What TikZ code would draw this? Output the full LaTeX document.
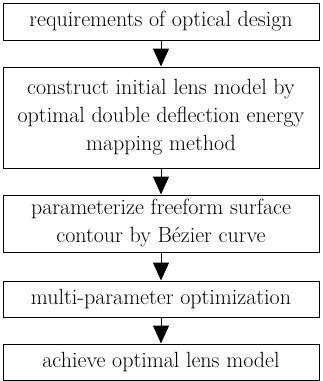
\documentclass[tikz,border=0pt]{standalone}
\usepackage{tikz}
\usetikzlibrary{arrows.meta,positioning}

\begin{document}
\begin{tikzpicture}[x=1pt, y=1pt, >={Triangle[width=16pt,length=18pt]}, line width=1pt,
	stepbox/.style={draw, minimum width=316pt, align=center, inner sep=0pt,
		font=\fontsize{22}{28}\selectfont}]
	\useasboundingbox (0,0) rectangle (322,-381);
	% Boxes {s1, s2, s3, s4, s5}
	\node [stepbox, minimum height=37pt] 	(s1) at (161,-21.5) {requirements of optical design};
	\node [stepbox, minimum height=101pt] 	(s2) [below=26pt of s1] {construct initial lens model by\\optimal double deflection energy\\mapping method};
	\node [stepbox, minimum height=57pt] 	(s3) [below=26pt of s2] {parameterize freeform surface\\contour by B\'ezier curve};
	\node [stepbox, minimum height=36pt] 	(s4) [below=28pt of s3] {multi-parameter optimization};
	\node [stepbox, minimum height=36pt] 	(s5) [below=26pt of s4] {achieve optimal lens model};

	% Arrows
	\path [->] 	(s1) edge (s2)
				(s2) edge (s3)
				(s3) edge (s4)
				(s4) edge (s5);
\end{tikzpicture}
\end{document}
